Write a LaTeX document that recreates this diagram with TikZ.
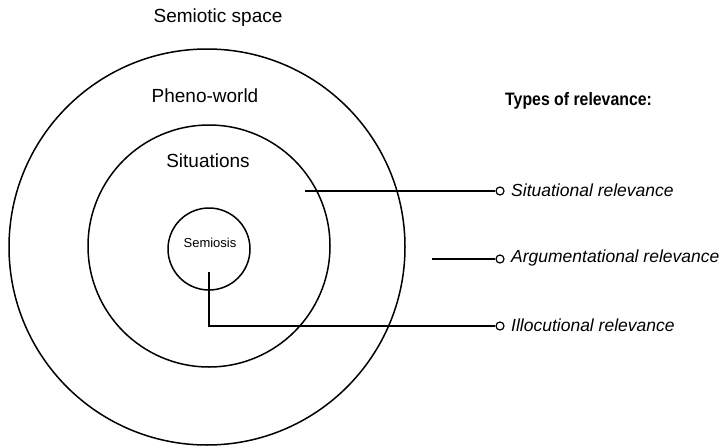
\documentclass[tikz,border=0pt]{standalone}
\usepackage{fontspec}
\setmainfont{Liberation Sans}
\begin{document}
\begin{tikzpicture}[x=1pt,y=-1pt,
  ring/.style={draw,circle,line width=1.5pt,inner sep=0pt},
  term/.style={draw,circle,line width=1.2pt,inner sep=0pt,minimum size=8pt,fill=white},
  conn/.style={line width=1.5pt},
  lbl/.style={font=\fontsize{19}{22}\selectfont},
  rel/.style={anchor=west,font=\fontsize{17.5}{21}\selectfont\itshape,inner sep=0pt}]
\useasboundingbox (0,0) rectangle (723,447);
\node[ring,minimum size=396pt] (outer) at (207,247) {};
\node[ring,minimum size=242pt] (middle) at (209,246) {};
\node[ring,minimum size=82pt] (inner) at (209,249) {};
\node[lbl] (tsp) at (218,18) {Semiotic space};
\node[lbl] (tpw) at (205,96) {Pheno-world};
\node[lbl] (tsit) at (208,161) {Situations};
\node[font=\fontsize{13}{15}\selectfont] (tsem) at (210,243) {Semiosis};
\node[anchor=west,font=\fontsize{18}{21}\selectfont\bfseries,inner sep=0pt] (types) at (505,101) {\scalebox{0.88}[1]{Types of relevance:}};
\node[term] (c1) at (500,191) {};
\node[term] (c2) at (500,259) {};
\node[term] (c3) at (500,326) {};
\node[rel] (r1) at (511,190) {Situational relevance};
\node[rel] (r2) at (511,258) {Argumentational relevance};
\node[rel] (r3) at (511,325) {Illocutional relevance};
\coordinate (s1) at (305,191);
\coordinate (s2) at (432,259);
\coordinate (s3) at (209,272);
\draw[conn] (s1) -- (c1.west);
\draw[conn] (s2) -- (c2.west);
\draw[conn] (s3) |- (c3.west);
\end{tikzpicture}
\end{document}
